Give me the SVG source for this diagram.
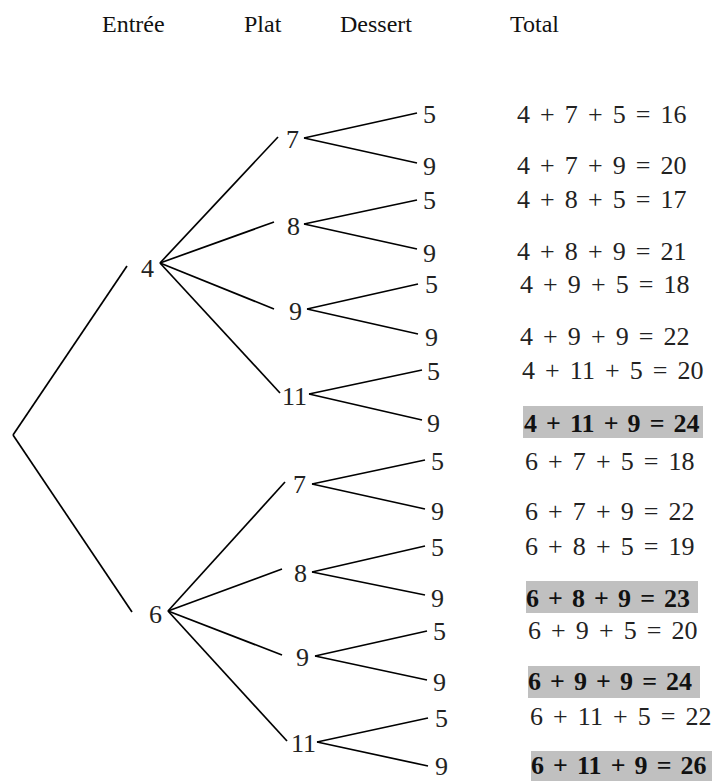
<svg xmlns="http://www.w3.org/2000/svg" width="716" height="781" viewBox="0 0 716 781">
<style>
.h{font-family:"Liberation Serif","DejaVu Serif",serif;font-size:24px;fill:#111}
.n{font-family:"Liberation Serif","DejaVu Serif",serif;font-size:26px;fill:#222}
.t{font-family:"Liberation Serif","DejaVu Serif",serif;font-size:26px;fill:#222;word-spacing:3.6px}
.b{font-family:"Liberation Serif","DejaVu Serif",serif;font-size:26px;font-weight:bold;fill:#111;word-spacing:2.6px}
.hl{fill:#c0c0c0}
.e{stroke:#000;stroke-width:1.7;fill:none}
</style>
<rect width="716" height="781" fill="#fff"/>
<g id="headers">
<text class="h" x="102" y="32">Entrée</text>
<text class="h" x="244" y="32">Plat</text>
<text class="h" x="340" y="32">Dessert</text>
<text class="h" x="510" y="32">Total</text>
</g>
<g id="connectors" class="e">
<line x1="13" y1="435" x2="127" y2="266"/>
<line x1="13" y1="435" x2="132" y2="612"/>
<line x1="160" y1="263" x2="278" y2="137"/>
<line x1="160" y1="263" x2="274" y2="222"/>
<line x1="160" y1="263" x2="274" y2="309"/>
<line x1="160" y1="263" x2="280" y2="393"/>
<line x1="304" y1="138" x2="417" y2="113"/>
<line x1="304" y1="138" x2="417" y2="163"/>
<line x1="304" y1="224" x2="417" y2="200"/>
<line x1="304" y1="224" x2="417" y2="249"/>
<line x1="307" y1="309" x2="418" y2="284"/>
<line x1="307" y1="309" x2="418" y2="334"/>
<line x1="309" y1="394" x2="422" y2="370"/>
<line x1="309" y1="394" x2="422" y2="420"/>
<line x1="168" y1="611" x2="285" y2="482"/>
<line x1="168" y1="611" x2="282" y2="569"/>
<line x1="168" y1="611" x2="282" y2="655"/>
<line x1="168" y1="611" x2="287" y2="741"/>
<line x1="312" y1="484" x2="425" y2="460"/>
<line x1="312" y1="484" x2="425" y2="509"/>
<line x1="312" y1="572" x2="425" y2="546"/>
<line x1="312" y1="572" x2="425" y2="595"/>
<line x1="315" y1="656" x2="427" y2="631"/>
<line x1="315" y1="656" x2="427" y2="680"/>
<line x1="317" y1="742" x2="428" y2="718"/>
<line x1="317" y1="742" x2="428" y2="766"/>
</g>
<g id="entree">
<text id="e4" class="n" x="141" y="277">4</text>
<text id="e6" class="n" x="149" y="623">6</text>
</g>
<g id="plat">
<text id="p4-7" class="n" x="286" y="148">7</text>
<text id="p4-8" class="n" x="287" y="235">8</text>
<text id="p4-9" class="n" x="289" y="320">9</text>
<text id="p4-11" class="n" x="282" y="405">11</text>
<text id="p6-7" class="n" x="293" y="493">7</text>
<text id="p6-8" class="n" x="294" y="582">8</text>
<text id="p6-9" class="n" x="296" y="666">9</text>
<text id="p6-11" class="n" x="291" y="752">11</text>
</g>
<g id="dessert">
<text class="n" x="423" y="123">5</text>
<text class="n" x="423" y="175">9</text>
<text class="n" x="423" y="209">5</text>
<text class="n" x="423" y="262">9</text>
<text class="n" x="425" y="293">5</text>
<text class="n" x="425" y="346">9</text>
<text class="n" x="427" y="380">5</text>
<text class="n" x="427" y="432">9</text>
<text class="n" x="431" y="470">5</text>
<text class="n" x="431" y="520">9</text>
<text class="n" x="431" y="556">5</text>
<text class="n" x="431" y="607">9</text>
<text class="n" x="433" y="640">5</text>
<text class="n" x="433" y="691">9</text>
<text class="n" x="435" y="727">5</text>
<text class="n" x="435" y="775">9</text>
</g>
<g id="totals">
<rect class="hl" x="523" y="406" width="180" height="32"/>
<rect class="hl" x="526" y="581" width="172" height="32"/>
<rect class="hl" x="528" y="666" width="172" height="32"/>
<rect class="hl" x="531" y="751" width="181" height="30"/>
<text class="t" x="517" y="123">4 + 7 + 5 = 16</text>
<text class="t" x="517" y="174">4 + 7 + 9 = 20</text>
<text class="t" x="517" y="208">4 + 8 + 5 = 17</text>
<text class="t" x="517" y="260">4 + 8 + 9 = 21</text>
<text class="t" x="520" y="293">4 + 9 + 5 = 18</text>
<text class="t" x="520" y="345">4 + 9 + 9 = 22</text>
<text class="t" x="522" y="379">4 + 11 + 5 = 20</text>
<text class="b" x="524" y="432">4 + 11 + 9 = 24</text>
<text class="t" x="525" y="470">6 + 7 + 5 = 18</text>
<text class="t" x="525" y="520">6 + 7 + 9 = 22</text>
<text class="t" x="525" y="555">6 + 8 + 5 = 19</text>
<text class="b" x="526" y="607">6 + 8 + 9 = 23</text>
<text class="t" x="528" y="639">6 + 9 + 5 = 20</text>
<text class="b" x="528" y="690">6 + 9 + 9 = 24</text>
<text class="t" x="530" y="725">6 + 11 + 5 = 22</text>
<text class="b" x="531" y="774">6 + 11 + 9 = 26</text>
</g>
</svg>
